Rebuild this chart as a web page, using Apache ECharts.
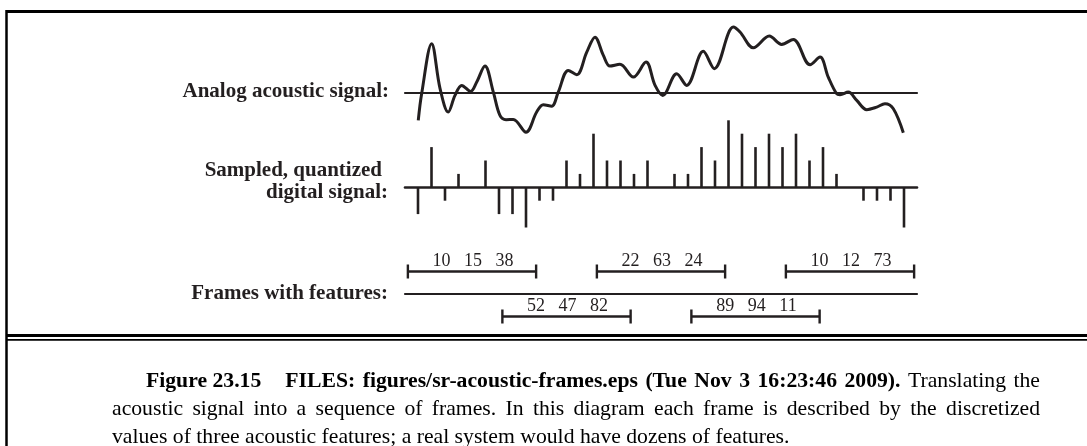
<!DOCTYPE html>
<html>
<head>
<meta charset="utf-8">
<script src="https://cdn.jsdelivr.net/npm/echarts@6/dist/echarts.min.js"></script>
<style>
html,body{margin:0;padding:0;background:#fff;}
#chart{width:1087px;height:446px;}
</style>
</head>
<body>
<div id="chart"></div>
<script>
// ---- data ----
// analog acoustic signal (time in sample units, amplitude in quantization units)
const analogT = [0.02,0.27,1.01,1.63,2.24,2.74,3.24,3.90,4.35,4.96,5.58,6.07,6.52,7.06,8.00,8.79,9.28,9.90,10.39,11.13,11.76,12.5,13.11,13.73,14.22,14.96,15.95,16.89,17.56,18.13,19.16,19.90,21.13,21.95,23.36,23.85,24.84,26.02,26.94,27.80,29.04,29.78,30.39,31.01,31.26,31.87,32.5,33.24,33.98,34.59,35.21,35.95];
const analogV = [-2.05,-0.06,3.67,0.34,-1.43,-0.19,0.56,0.11,0.81,2.01,0.06,-1.68,-2.00,-1.98,-2.93,-1.43,-0.88,-0.99,0.06,1.68,1.36,3.04,4.16,2.80,2.00,2.13,1.18,2.30,0.56,-0.19,1.43,0.56,3.10,1.81,4.91,4.54,3.37,4.24,3.62,3.99,2.10,2.67,1.18,-0.06,-0.13,0.06,-0.56,-1.25,-1.06,-0.81,-1.18,-2.97];
// sampled, quantized digital signal (one value per sample)
const sampleValues = [-2,3,-1,1,0,2,-2,-2,-3,-1,-1,2,1,4,2,2,1,2,0,1,1,3,2,5,4,3,4,3,4,2,3,1,0,-1,-1,-1,-3];
// frames (start in sample units, lane: 1 upper / -1 lower)
const frameStart = [-0.75, 6.25, 13.25, 20.25, 27.25];
const frameLength = 9.5;
const frameLane = [1, -1, 1, -1, 1];
const frameFeatures = [[10,15,38],[52,47,82],[22,63,24],[89,94,11],[10,12,73]];
// texts
const rowLabels = ['Analog acoustic signal:', 'Sampled, quantized', 'digital signal:', 'Frames with features:'];
const captionHead = 'Figure 23.15';
const captionFiles = 'FILES: figures/sr-acoustic-frames.eps (Tue Nov 3 16:23:46 2009).';
const captionLines = ['Translating the',
  'acoustic signal into a sequence of frames. In this diagram each frame is described by the discretized',
  'values of three acoustic features; a real system would have dozens of features.'];

// ---- chart ----
const INK = '#231f20';
const XMIN = -0.963, XMAX = 36.963;
const serif = '"Liberation Serif", "Times New Roman", serif';
const CAP = 21.7;
const fontB = 'bold ' + CAP + 'px ' + serif;
const fontR = CAP + 'px ' + serif;

const chart = echarts.init(document.getElementById('chart'), null, {renderer: 'canvas'});

function xAx(gi, lw) {
  return {
    gridIndex: gi, type: 'value', min: XMIN, max: XMAX,
    axisLine: {show: true, onZero: true, lineStyle: {color: INK, width: lw}},
    axisTick: {show: false}, axisLabel: {show: false}, splitLine: {show: false}
  };
}
function yAx(gi, mn, mx) {
  return {
    gridIndex: gi, type: 'value', min: mn, max: mx,
    axisLine: {show: false}, axisTick: {show: false}, axisLabel: {show: false}, splitLine: {show: false}
  };
}

// justified caption layout (text stays real text, words placed individually)
const mctx = document.createElement('canvas').getContext('2d');
function measure(t, f) { mctx.font = f; return mctx.measureText(t).width; }
function justified(words, x0, x1, y) {
  const total = words.reduce((s, w) => s + measure(w.t, w.f), 0);
  const gap = (x1 - x0 - total) / (words.length - 1);
  let x = x0;
  return words.map(w => {
    const el = {type: 'text', style: {text: w.t, x: x, y: y, verticalAlign: 'middle', font: w.f, fill: '#000'}};
    x += measure(w.t, w.f) + gap;
    return el;
  });
}

const captionY = [381, 409, 437];
const line1Words = captionFiles.split(' ').map(t => ({t, f: fontB}))
  .concat(captionLines[0].split(' ').map(t => ({t, f: fontR})));
const line2Words = captionLines[1].split(' ').map(t => ({t, f: fontR}));
const headW = measure(captionHead, fontB);

const graphics = [
  // frame borders
  {type: 'line', shape: {x1: 6.5, y1: 11.5, x2: 1087, y2: 11.5}, style: {stroke: '#000', lineWidth: 3}},
  {type: 'line', shape: {x1: 6.5, y1: 10, x2: 6.5, y2: 446}, style: {stroke: '#000', lineWidth: 2.5}},
  {type: 'line', shape: {x1: 6.5, y1: 335.5, x2: 1087, y2: 335.5}, style: {stroke: '#000', lineWidth: 3}},
  {type: 'line', shape: {x1: 6.5, y1: 339.8, x2: 1087, y2: 339.8}, style: {stroke: '#000', lineWidth: 1.8}},
  // row labels
  {type: 'text', style: {text: rowLabels[0], x: 389, y: 92, align: 'right', verticalAlign: 'middle', font: 'bold 21px ' + serif, fill: INK}},
  {type: 'text', style: {text: rowLabels[1], x: 382, y: 171, align: 'right', verticalAlign: 'middle', font: 'bold 21px ' + serif, fill: INK}},
  {type: 'text', style: {text: rowLabels[2], x: 388, y: 193, align: 'right', verticalAlign: 'middle', font: 'bold 21px ' + serif, fill: INK}},
  {type: 'text', style: {text: rowLabels[3], x: 388, y: 294, align: 'right', verticalAlign: 'middle', font: 'bold 21px ' + serif, fill: INK}},
  // caption
  {type: 'text', style: {text: captionHead, x: 146, y: captionY[0], verticalAlign: 'middle', font: fontB, fill: '#000'}}
].concat(
  justified(line1Words, 146 + headW + 24, 1040, captionY[0]),
  justified(line2Words, 112, 1040, captionY[1]),
  [{type: 'text', style: {text: captionLines[2], x: 112, y: captionY[2], verticalAlign: 'middle', font: fontR, fill: '#000'}}]
);

const option = {
  animation: false,
  backgroundColor: '#fff',
  grid: [
    {left: 405, width: 512, top: 12.5, height: 134},
    {left: 405, width: 512, top: 106.9, height: 134},
    {left: 405, width: 512, top: 226.5, height: 135}
  ],
  xAxis: [xAx(0, 2.2), xAx(1, 2.6), xAx(2, 2.2)],
  yAxis: [yAx(0, -4, 6), yAx(1, -4, 6), yAx(2, -3, 3)],
  series: [
    {
      type: 'line', xAxisIndex: 0, yAxisIndex: 0, smooth: 0.35, symbol: 'none',
      lineStyle: {color: INK, width: 3},
      data: analogT.map((t, i) => [t, analogV[i]])
    },
    {
      type: 'bar', xAxisIndex: 1, yAxisIndex: 1, barWidth: 2.6,
      itemStyle: {color: INK},
      data: sampleValues.map((v, i) => [i, v])
    },
    {
      type: 'custom', xAxisIndex: 2, yAxisIndex: 2,
      data: frameStart.map((s, i) => [s, s + frameLength, frameLane[i], i]),
      renderItem: function (params, api) {
        const idx = api.value(3);
        const p0 = api.coord([api.value(0), api.value(2)]);
        const p1 = api.coord([api.value(1), api.value(2)]);
        const st = {stroke: INK, lineWidth: 2.4};
        const th = 7;
        return {
          type: 'group',
          children: [
            {type: 'line', shape: {x1: p0[0], y1: p0[1], x2: p1[0], y2: p1[1]}, style: st},
            {type: 'line', shape: {x1: p0[0], y1: p0[1] - th, x2: p0[0], y2: p0[1] + th}, style: st},
            {type: 'line', shape: {x1: p1[0], y1: p1[1] - th, x2: p1[0], y2: p1[1] + th}, style: st},
            {type: 'text', style: {
              text: frameFeatures[idx].join('\u00a0\u00a0\u00a0'),
              x: (p0[0] + p1[0]) / 2 + 1, y: p0[1] - 10.5,
              align: 'center', verticalAlign: 'middle',
              font: '18px ' + serif, fill: INK
            }}
          ]
        };
      }
    }
  ],
  graphic: graphics
};
chart.setOption(option);
</script>
</body>
</html>
